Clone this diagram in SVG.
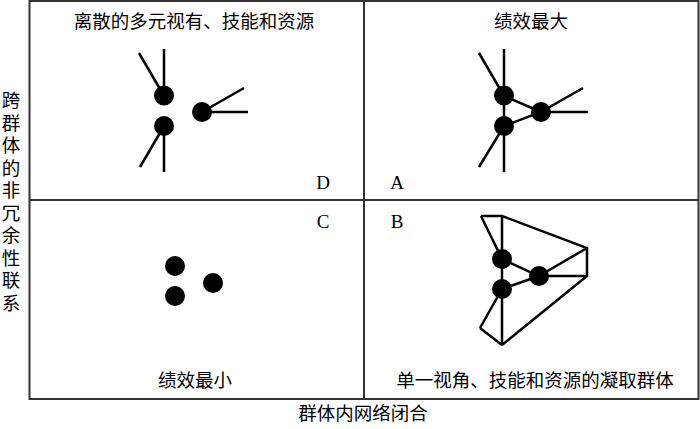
<svg xmlns="http://www.w3.org/2000/svg" width="700" height="429" viewBox="0 0 700 429">
<style>
.frame{fill:none;stroke:#333;stroke-width:2}
.ln{stroke:#000;stroke-width:2.5;fill:none;stroke-linejoin:miter}
.dot{fill:#000}
.t{font-family:"Liberation Serif","Noto Sans CJK SC",serif;font-size:18.5px;fill:#000;text-anchor:middle}
.l{font-family:"Liberation Serif",serif;font-size:19px;fill:#000;text-anchor:middle}
</style>
<rect width="700" height="429" fill="#fff"/>
<g id="frame">
<rect class="frame" x="29.5" y="1" width="669" height="398"/>
<line class="frame" x1="364" y1="1" x2="364" y2="399"/>
<line class="frame" x1="29.5" y1="200" x2="698.5" y2="200"/>
</g>
<g id="labels">
<text class="t" x="194" y="28">离散的多元视有、技能和资源</text>
<text class="t" x="531" y="28">绩效最大</text>
<text class="t" x="195" y="387">绩效最小</text>
<text class="t" x="535" y="387">单一视角、技能和资源的凝取群体</text>
<text class="t" x="363" y="420">群体内网络闭合</text>
<g class="t">
<text x="11" y="107">跨</text>
<text x="11" y="129.5">群</text>
<text x="11" y="152">体</text>
<text x="11" y="174.5">的</text>
<text x="11" y="197">非</text>
<text x="11" y="219.5">冗</text>
<text x="11" y="242">余</text>
<text x="11" y="264.5">性</text>
<text x="11" y="287">联</text>
<text x="11" y="309.5">系</text>
</g>
<text class="l" x="323" y="189">D</text>
<text class="l" x="397" y="189">A</text>
<text class="l" x="323" y="228">C</text>
<text class="l" x="397" y="228">B</text>
</g>
<g id="node-D">
<path class="ln" d="M164,49V96M139,53L164,96M164,126V172M140,167L164,126M202,112L244,88M202,112H248"/>
<circle class="dot" cx="164" cy="95.5" r="10"/>
<circle class="dot" cx="164" cy="126" r="10"/>
<circle class="dot" cx="202" cy="112" r="10"/>
</g>
<g id="node-A">
<path class="ln" d="M504,49V172M479,53L504,96M479,167L504,126M541,112L583,88M541,112H588M504,96L541,112L504,126"/>
<circle class="dot" cx="504" cy="95.5" r="10"/>
<circle class="dot" cx="504" cy="126" r="10"/>
<circle class="dot" cx="541" cy="112" r="10"/>
</g>
<g id="node-C">
<circle class="dot" cx="175" cy="266" r="10"/>
<circle class="dot" cx="175" cy="296" r="10"/>
<circle class="dot" cx="213" cy="283" r="10"/>
</g>
<g id="node-B">
<path class="ln" d="M502,216V345M481,216H502L587,248V276H539M539,276L587,248M481,216L502,259M587,276L502,345M480,328L502,345M480,328L502,289M502,259L539,276L502,289"/>
<circle class="dot" cx="502" cy="259" r="10"/>
<circle class="dot" cx="502" cy="289" r="10"/>
<circle class="dot" cx="539" cy="276" r="10"/>
</g>
</svg>
